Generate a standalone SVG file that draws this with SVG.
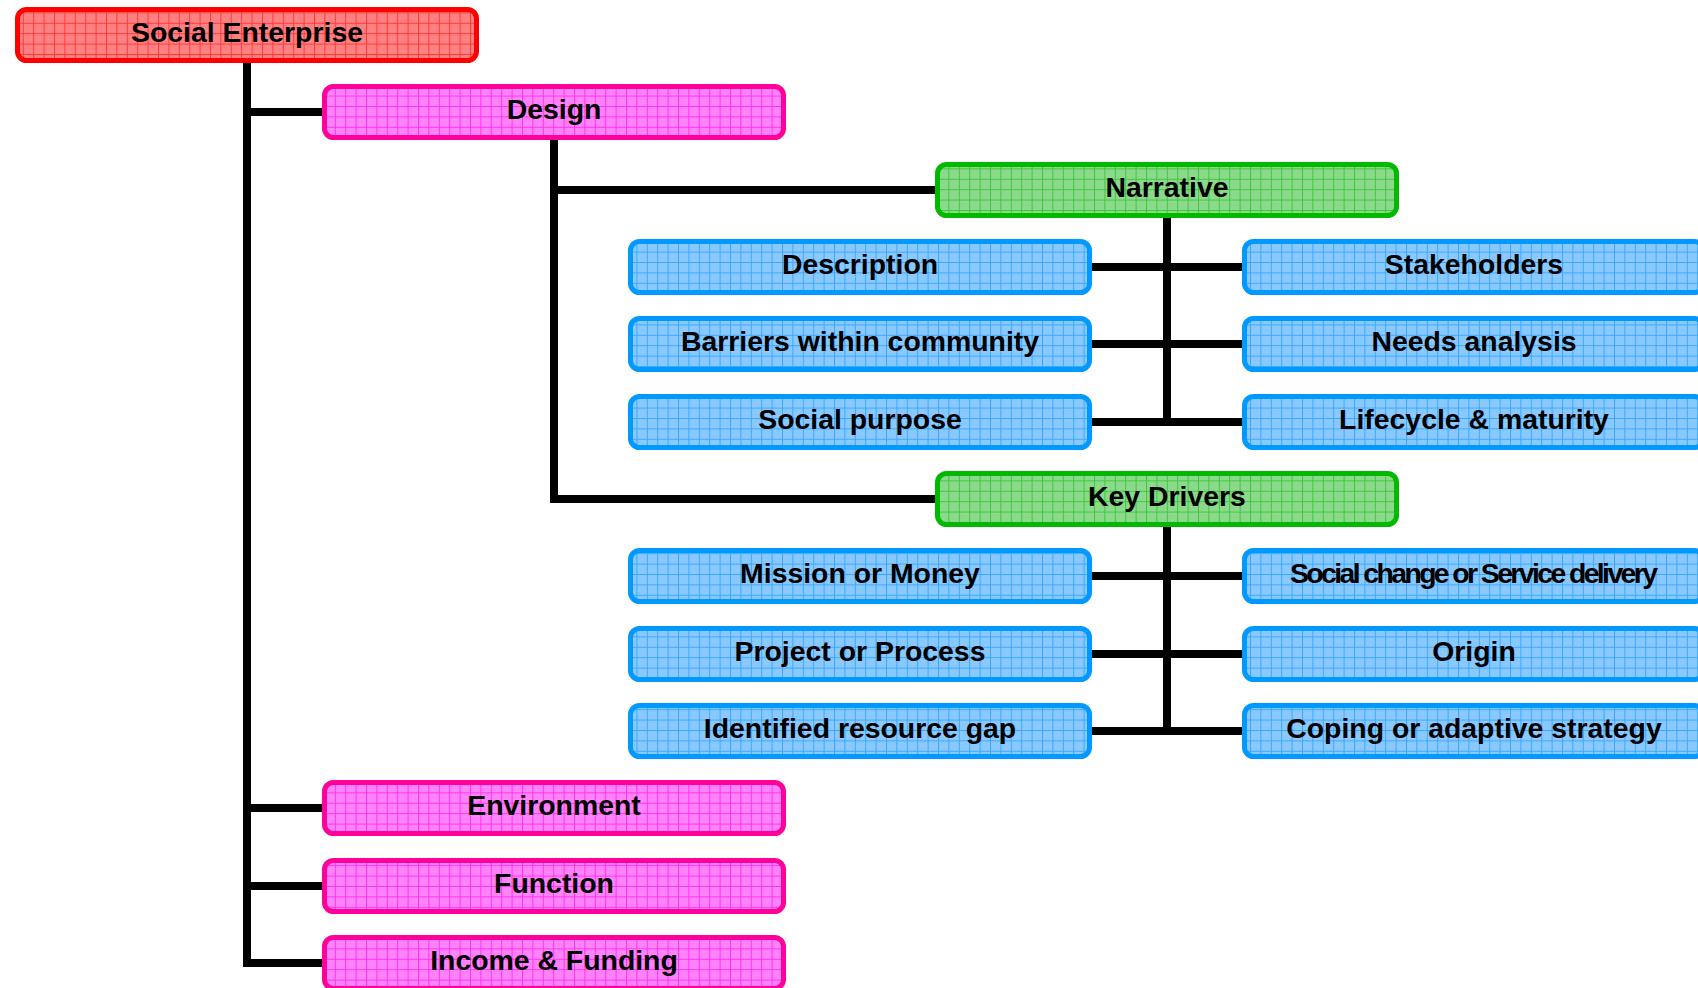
<svg xmlns="http://www.w3.org/2000/svg" width="1698" height="988" viewBox="0 0 1698 988">
<style>
  .box { stroke-width: 5; }
  .red { fill: url(#gridR); stroke: #ff0000; }
  .pink { fill: url(#gridP); stroke: #ff0099; }
  .green { fill: url(#gridG); stroke: #00b900; }
  .blue { fill: url(#gridB); stroke: #0099ff; }
  .lbl { font-family: "Liberation Sans", Arial, sans-serif; font-weight: bold; font-size: 28.4px; fill: #000; text-anchor: middle; }
  .conn { fill: none; stroke: #000; stroke-width: 8; stroke-linejoin: miter; }
</style>
<defs>
  <pattern id="chkR" width="2" height="2" patternUnits="userSpaceOnUse"><rect width="2" height="2" fill="#ff8e8e"/><rect width="1" height="1" fill="#ff7272"/><rect x="1" y="1" width="1" height="1" fill="#ff7272"/></pattern>
  <pattern id="chkP" width="2" height="2" patternUnits="userSpaceOnUse"><rect width="2" height="2" fill="#ff94ff"/><rect width="1" height="1" fill="#ff70f4"/><rect x="1" y="1" width="1" height="1" fill="#ff70f4"/></pattern>
  <pattern id="chkG" width="2" height="2" patternUnits="userSpaceOnUse"><rect width="2" height="2" fill="#98e098"/><rect width="1" height="1" fill="#7ed27e"/><rect x="1" y="1" width="1" height="1" fill="#7ed27e"/></pattern>
  <pattern id="chkB" width="2" height="2" patternUnits="userSpaceOnUse"><rect width="2" height="2" fill="#96d0ff"/><rect width="1" height="1" fill="#7cc2ff"/><rect x="1" y="1" width="1" height="1" fill="#7cc2ff"/></pattern>
  <pattern id="gridR" width="10.4" height="10.4" patternUnits="userSpaceOnUse" x="2" y="2"><rect width="10.4" height="10.4" fill="url(#chkR)"/><path d="M0.5 0V10.4M0 0.5H10.4" stroke="#ff3a3a" stroke-width="1"/></pattern>
  <pattern id="gridP" width="10.4" height="10.4" patternUnits="userSpaceOnUse" x="2" y="2"><rect width="10.4" height="10.4" fill="url(#chkP)"/><path d="M0.5 0V10.4M0 0.5H10.4" stroke="#ff33ee" stroke-width="1"/></pattern>
  <pattern id="gridG" width="10.4" height="10.4" patternUnits="userSpaceOnUse" x="2" y="2"><rect width="10.4" height="10.4" fill="url(#chkG)"/><path d="M0.5 0V10.4M0 0.5H10.4" stroke="#3cc83c" stroke-width="1"/></pattern>
  <pattern id="gridB" width="10.4" height="10.4" patternUnits="userSpaceOnUse" x="2" y="2"><rect width="10.4" height="10.4" fill="url(#chkB)"/><path d="M0.5 0V10.4M0 0.5H10.4" stroke="#3aa8ff" stroke-width="1"/></pattern>
</defs>
<rect width="1698" height="988" fill="#ffffff"/>

<g id="connectors">
  <path class="conn" d="M247 63V963H322"/>
  <path class="conn" d="M247 112H322M247 808H322M247 886H322"/>
  <path class="conn" d="M554 140V499H935M554 190H935"/>
  <path class="conn" d="M1167 218V426M1092 267H1242M1092 344H1242M1092 422H1242"/>
  <path class="conn" d="M1167 527V735M1092 576H1242M1092 654H1242M1092 731H1242"/>
</g>

<g id="social-enterprise"><rect class="box red" x="17.5" y="9.5" width="459" height="51" rx="9"/><text class="lbl" x="247" y="42">Social Enterprise</text></g>
<g id="design"><rect class="box pink" x="324.5" y="86.5" width="459" height="51" rx="9"/><text class="lbl" x="554" y="119">Design</text></g>
<g id="narrative"><rect class="box green" x="937.5" y="164.5" width="459" height="51" rx="9"/><text class="lbl" x="1167" y="197">Narrative</text></g>
<g id="description"><rect class="box blue" x="630.5" y="241.5" width="459" height="51" rx="9"/><text class="lbl" x="860" y="274">Description</text></g>
<g id="stakeholders"><rect class="box blue" x="1244.5" y="241.5" width="459" height="51" rx="9"/><text class="lbl" x="1474" y="274">Stakeholders</text></g>
<g id="barriers"><rect class="box blue" x="630.5" y="318.5" width="459" height="51" rx="9"/><text class="lbl" x="860" y="351">Barriers within community</text></g>
<g id="needs-analysis"><rect class="box blue" x="1244.5" y="318.5" width="459" height="51" rx="9"/><text class="lbl" x="1474" y="351">Needs analysis</text></g>
<g id="social-purpose"><rect class="box blue" x="630.5" y="396.5" width="459" height="51" rx="9"/><text class="lbl" x="860" y="429">Social purpose</text></g>
<g id="lifecycle"><rect class="box blue" x="1244.5" y="396.5" width="459" height="51" rx="9"/><text class="lbl" x="1474" y="429">Lifecycle &amp; maturity</text></g>
<g id="key-drivers"><rect class="box green" x="937.5" y="473.5" width="459" height="51" rx="9"/><text class="lbl" x="1167" y="506">Key Drivers</text></g>
<g id="mission"><rect class="box blue" x="630.5" y="550.5" width="459" height="51" rx="9"/><text class="lbl" x="860" y="583">Mission or Money</text></g>
<g id="social-change"><rect class="box blue" x="1244.5" y="550.5" width="459" height="51" rx="9"/><text class="lbl" x="1474" y="583" textLength="368" lengthAdjust="spacing">Social change or Service delivery</text></g>
<g id="project"><rect class="box blue" x="630.5" y="628.5" width="459" height="51" rx="9"/><text class="lbl" x="860" y="661">Project or Process</text></g>
<g id="origin"><rect class="box blue" x="1244.5" y="628.5" width="459" height="51" rx="9"/><text class="lbl" x="1474" y="661">Origin</text></g>
<g id="resource-gap"><rect class="box blue" x="630.5" y="705.5" width="459" height="51" rx="9"/><text class="lbl" x="860" y="738">Identified resource gap</text></g>
<g id="coping"><rect class="box blue" x="1244.5" y="705.5" width="459" height="51" rx="9"/><text class="lbl" x="1474" y="738">Coping or adaptive strategy</text></g>
<g id="environment"><rect class="box pink" x="324.5" y="782.5" width="459" height="51" rx="9"/><text class="lbl" x="554" y="815">Environment</text></g>
<g id="function"><rect class="box pink" x="324.5" y="860.5" width="459" height="51" rx="9"/><text class="lbl" x="554" y="893">Function</text></g>
<g id="income"><rect class="box pink" x="324.5" y="937.5" width="459" height="51" rx="9"/><text class="lbl" x="554" y="970">Income &amp; Funding</text></g>
</svg>
